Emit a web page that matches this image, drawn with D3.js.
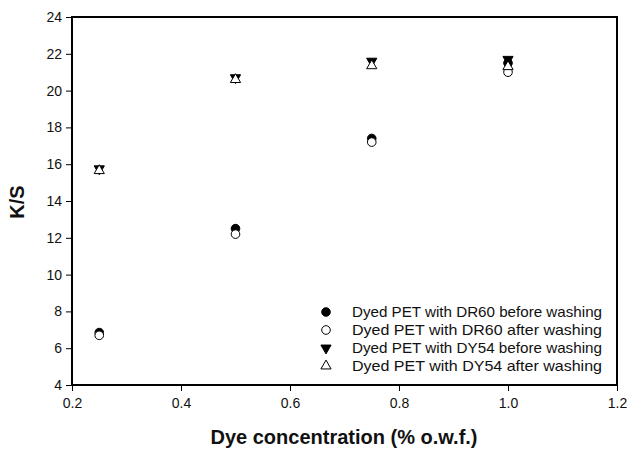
<!DOCTYPE html>
<html>
<head>
<meta charset="utf-8">
<script src="https://cdn.jsdelivr.net/npm/d3@7"></script>
<style>
  body { margin: 0; background: #fff; }
  text { font-family: Arial, "Liberation Sans", sans-serif; fill: #111; }
</style>
</head>
<body>
<svg id="chart" width="627" height="450"></svg>
<script>
(function() {
    'use strict';

    var conc = [0.25, 0.5, 0.75, 1.0];
    var dr60Before = [6.85, 12.5, 17.4, 21.5];
    var dr60After = [6.7, 12.2, 17.2, 21.0];
    var dy54Before = [15.75, 20.7, 21.6, 21.7];
    var dy54After = [15.65, 20.6, 21.35, 21.3];
    var seriesNames = [
        'Dyed PET with DR60 before washing',
        'Dyed PET with DR60 after washing',
        'Dyed PET with DY54 before washing',
        'Dyed PET with DY54 after washing'
    ];
    var xTicks = [0.2, 0.4, 0.6, 0.8, 1.0, 1.2];
    var yTicks = [4, 6, 8, 10, 12, 14, 16, 18, 20, 22, 24];

    var left = 72, right = 617, top = 17, bottom = 385;
    var svg = d3.select('#chart');

    var x = d3.scaleLinear().domain([0.2, 1.2]).range([left, right]);
    var y = d3.scaleLinear().domain([4, 24]).range([bottom, top]);

    // frame
    svg.append('rect')
        .attr('x', left).attr('y', top)
        .attr('width', right - left).attr('height', bottom - top)
        .attr('fill', 'none').attr('stroke', '#000').attr('stroke-width', 2);

    var xAxis = svg.append('g')
        .attr('transform', 'translate(0,' + bottom + ')')
        .call(d3.axisBottom(x).tickValues(xTicks).tickFormat(d3.format('.1f')).tickSize(6).tickPadding(7));
    var yAxis = svg.append('g')
        .attr('transform', 'translate(' + left + ',0)')
        .call(d3.axisLeft(y).tickValues(yTicks).tickFormat(d3.format('d')).tickSize(6).tickPadding(4));

    [xAxis, yAxis].forEach(function(g) {
        g.select('.domain').remove();
        g.selectAll('line').attr('stroke', '#000');
        g.selectAll('text').attr('font-size', 14).attr('font-family', 'Arial, "Liberation Sans", sans-serif').attr('fill', '#111');
    });

    svg.append('text')
        .attr('x', 344).attr('y', 444)
        .attr('text-anchor', 'middle')
        .attr('font-size', 20).attr('font-weight', 'bold')
        .text('Dye concentration (% o.w.f.)');

    svg.append('text')
        .attr('transform', 'translate(24,' + 202 + ') rotate(-90)')
        .attr('text-anchor', 'middle')
        .attr('font-size', 20).attr('font-weight', 'bold')
        .text('K/S');

    var triDown = d3.symbol().type(d3.symbolTriangle).size(45)();

    var series = [
        { vals: dr60Before, shape: 'circle', fill: '#000' },
        { vals: dr60After, shape: 'circle', fill: '#fff' },
        { vals: dy54Before, shape: 'tridown', fill: '#000' },
        { vals: dy54After, shape: 'triup', fill: '#fff' }
    ];

    function drawMarker(g, s) {
        if (s.shape === 'circle') {
            g.append('circle').attr('r', 4.3)
                .attr('fill', s.fill).attr('stroke', '#000').attr('stroke-width', 1);
        } else {
            g.append('path').attr('d', triDown)
                .attr('transform', s.shape === 'tridown' ? 'rotate(180)' : null)
                .attr('fill', s.fill).attr('stroke', '#000').attr('stroke-width', 1);
        }
    }

    series.forEach(function(s) {
        svg.append('g').selectAll('g')
            .data(conc)
            .enter().append('g')
            .attr('transform', function(d, i) {
                return 'translate(' + x(d) + ',' + y(s.vals[i]) + ')';
            })
            .each(function() { drawMarker(d3.select(this), s); });
    });

    // legend
    var legend = svg.append('g');
    seriesNames.forEach(function(name, i) {
        var row = legend.append('g').attr('transform', 'translate(326,' + (312 + i * 18) + ')');
        drawMarker(row.append('g'), series[i]);
        row.append('text').attr('x', 26).attr('y', 5)
            .attr('font-size', 14.5).attr('textLength', 250).attr('lengthAdjust', 'spacingAndGlyphs')
            .text(name);
    });
})();
</script>
</body>
</html>
